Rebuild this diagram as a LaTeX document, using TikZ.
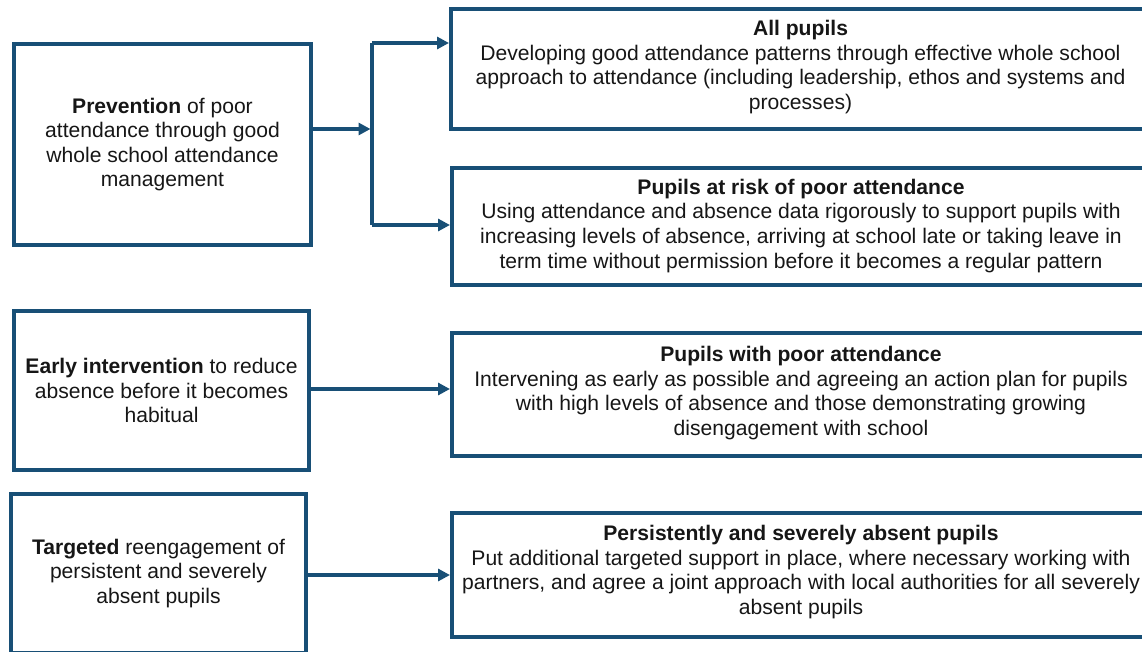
\documentclass[tikz,border=0pt]{standalone}
\usepackage{fontspec}
\setmainfont{Liberation Sans}
\usetikzlibrary{arrows.meta}
\definecolor{boxblue}{RGB}{24,79,118}
\definecolor{txt}{RGB}{22,22,22}
\newcommand{\lowstrut}[1]{\rule[-#1]{0pt}{0pt}}
\begin{document}
\begin{tikzpicture}[x=1pt,y=-1pt,
  box/.style={draw=boxblue,line width=4pt,text=txt,align=center,
    font=\fontsize{21.1}{24.6}\selectfont,inner sep=0pt},
  arr/.style={draw=boxblue,line width=3.5pt,-{Triangle[length=12pt,width=12pt]}},
  link/.style={draw=boxblue,line width=3.5pt}]
\useasboundingbox (0,0) rectangle (1142,652);
% left boxes
\node[box,minimum width=297pt,minimum height=201pt] (b1) at (162.5,144.5)
  {\textbf{Prevention} of poor\\attendance through good\\whole school attendance\\management};
\node[box,minimum width=295pt,minimum height=159pt] (b2) at (161.5,390.5)
  {\textbf{Early intervention} to reduce\\absence before it becomes\\habitual};
\node[box,minimum width=295pt,minimum height=159pt] (b3) at (158.5,573.5)
  {\textbf{Targeted} reengagement of\\persistent and severely\\absent pupils\lowstrut{4pt}};
% right boxes
\node[box,minimum width=699pt,minimum height=119.5pt] (r1) at (800.5,69)
  {\textbf{All pupils}\\Developing good attendance patterns through effective whole school\\approach to attendance (including leadership, ethos and systems and\\processes)\lowstrut{8pt}};
\node[box,minimum width=698pt,minimum height=117pt] (r2) at (801,226.5)
  {\textbf{Pupils at risk of poor attendance}\\Using attendance and absence data rigorously to support pupils with\\increasing levels of absence, arriving at school late or taking leave in\\term time without permission before it becomes a regular pattern\lowstrut{6pt}};
\node[box,minimum width=698pt,minimum height=123pt] (r3) at (801,394)
  {\textbf{Pupils with poor attendance}\\Intervening as early as possible and agreeing an action plan for pupils\\with high levels of absence and those demonstrating growing\\disengagement with school\lowstrut{6pt}};
\node[box,minimum width=698pt,minimum height=124.5pt] (r4) at (801,575)
  {\textbf{Persistently and severely absent pupils}\\Put additional targeted support in place, where necessary working with\\partners, and agree a joint approach with local authorities for all severely\\absent pupils\lowstrut{10pt}};
% connectors
\coordinate (jm) at (370.5,129);
\coordinate (jt) at (372,43);
\coordinate (jb) at (372,225);
\coordinate (a2) at (0,389);
\coordinate (a3) at (0,575);
\draw[arr] (b1.east |- jm) -- (jm);
\draw[link] (jt) -- (jb);
\draw[arr] (jt) -- (jt -| r1.west);
\draw[arr] (jb) -- (jb -| r2.west);
\draw[arr] (b2.east |- a2) -- (r3.west |- a2);
\draw[arr] (b3.east |- a3) -- (r4.west |- a3);
\end{tikzpicture}
\end{document}
